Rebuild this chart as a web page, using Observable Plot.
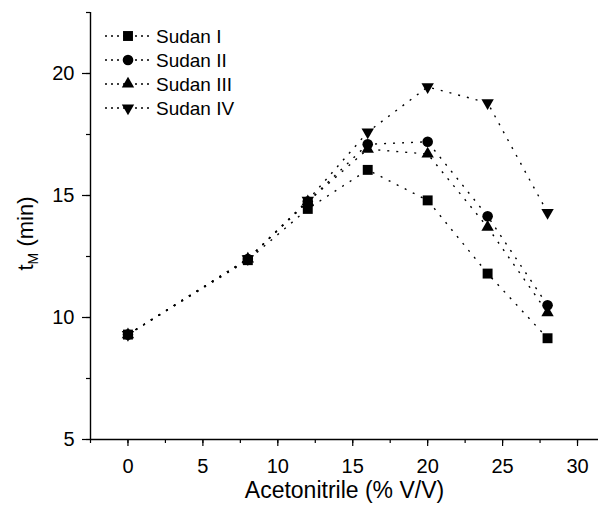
<!DOCTYPE html>
<html>
<head>
<meta charset="utf-8">
<script src="https://cdn.jsdelivr.net/npm/d3@7"></script>
<script src="https://cdn.jsdelivr.net/npm/@observablehq/plot@0.6"></script>
<style>
  html, body { margin: 0; padding: 0; background: #fff; }
  #chart svg { display: block; }
</style>
</head>
<body>
<div id="chart"></div>
<script>
// ---- data ----
const acetonitrile = [0, 8, 12, 16, 20, 24, 28];
const seriesNames = ["Sudan I", "Sudan II", "Sudan III", "Sudan IV"];
const sudanI   = [9.3, 12.35, 14.45, 16.05, 14.8, 11.8, 9.15];
const sudanII  = [9.3, 12.4, 14.75, 17.1, 17.2, 14.15, 10.5];
const sudanIII = [9.3, 12.4, 14.75, 16.9, 16.7, 13.7, 10.2];
const sudanIV  = [9.3, 12.4, 14.8, 17.6, 19.45, 18.8, 14.3];
const xTickLabels = [0, 5, 10, 15, 20, 25, 30];
const yTickLabels = [5, 10, 15, 20];
const xTitle = "Acetonitrile (% V/V)";

// ---- build table ----
const seriesValues = [sudanI, sudanII, sudanIII, sudanIV];
const rows = [];
seriesNames.forEach((name, i) => {
  acetonitrile.forEach((x, j) => rows.push({series: name, x, y: seriesValues[i][j]}));
});

const FONT = "'Liberation Sans', Arial, Helvetica, sans-serif";
const symbolSpec = {
  "Sudan I":   {symbol: "square",   r: 5.6, rotate: 0},
  "Sudan II":  {symbol: "circle",   r: 5.3, rotate: 0},
  "Sudan III": {symbol: "triangle", r: 4.6, rotate: 0},
  "Sudan IV":  {symbol: "triangle", r: 4.6, rotate: 180}
};
const d3sym = {square: d3.symbolSquare, circle: d3.symbolCircle, triangle: d3.symbolTriangle};

const dotMarks = seriesNames.map(name => Plot.dot(rows.filter(d => d.series === name), {
  x: "x", y: "y", symbol: symbolSpec[name].symbol, r: symbolSpec[name].r,
  rotate: symbolSpec[name].rotate, fill: "#000", stroke: "none"
}));

// legend drawn inside frame, top-left
function legend(index, scales, values, dims) {
  const g = d3.create("svg:g").attr("font-family", FONT);
  seriesNames.forEach((name, i) => {
    const y = dims.marginTop + 24 + i * 24;
    const x0 = dims.marginLeft + 15;
    g.append("line").attr("x1", x0).attr("x2", x0 + 45).attr("y1", y).attr("y2", y)
      .attr("stroke", "#000").attr("stroke-width", 1.4).attr("stroke-dasharray", "2,4");
    const s = symbolSpec[name];
    g.append("path")
      .attr("d", d3.symbol(d3sym[s.symbol], s.r * s.r * Math.PI)())
      .attr("transform", `translate(${x0 + 23},${y}) rotate(${s.rotate})`)
      .attr("fill", "#000");
    g.append("text").attr("x", x0 + 51).attr("y", y).attr("dy", "0.35em")
      .attr("text-anchor", "start")
      .attr("font-size", 19).attr("fill", "#000").text(name);
  });
  return g.node();
}

function yTitle(index, scales, values, dims) {
  const cy = dims.marginTop + (dims.height - dims.marginTop - dims.marginBottom) / 2 + 8;
  const t = d3.create("svg:text")
    .attr("transform", `translate(33,${cy}) rotate(-90)`)
    .attr("text-anchor", "middle").attr("font-family", FONT).attr("font-size", 22).attr("fill", "#000");
  t.append("tspan").text("t");
  t.append("tspan").attr("font-size", 14).attr("dy", 5).text("M");
  t.append("tspan").attr("dy", -5).text(" (min)");
  return t.node();
}

const chart = Plot.plot({
  width: 607,
  height: 511,
  marginLeft: 90,
  marginRight: 9,
  marginTop: 12,
  marginBottom: 72,
  style: {fontFamily: FONT, background: "#fff", color: "#000"},
  x: {domain: [-2.5, 31.4]},
  y: {domain: [5, 22.5]},
  marks: [
    // minor ticks
    Plot.axisX({ticks: d3.range(-2.5, 31, 2.5), tickSize: 4, text: null, label: null, strokeWidth: 1.2}),
    Plot.axisY({ticks: d3.range(5, 22.6, 2.5), tickSize: 4, text: null, label: null, strokeWidth: 1.2}),
    // major ticks with labels
    Plot.axisX({ticks: xTickLabels, tickSize: 7, tickPadding: 12, fontSize: 20, label: null, strokeWidth: 1.2}),
    Plot.axisY({ticks: yTickLabels, tickSize: 8, tickPadding: 8, fontSize: 20, label: null, strokeWidth: 1.2}),
    // frame (left & bottom)
    Plot.ruleX([-2.5], {stroke: "#000", strokeWidth: 1.4}),
    Plot.ruleY([5], {stroke: "#000", strokeWidth: 1.4}),
    // lines
    Plot.line(rows, {x: "x", y: "y", z: "series", stroke: "#000", strokeWidth: 1.4,
      strokeDasharray: "2,7", strokeLinecap: "butt"}),
    ...dotMarks,
    // x title
    Plot.text([xTitle], {text: d => d, frameAnchor: "bottom", dy: 58, fontSize: 23, fill: "#000"}),
    yTitle,
    legend
  ]
});
document.getElementById("chart").appendChild(chart);
</script>
</body>
</html>
